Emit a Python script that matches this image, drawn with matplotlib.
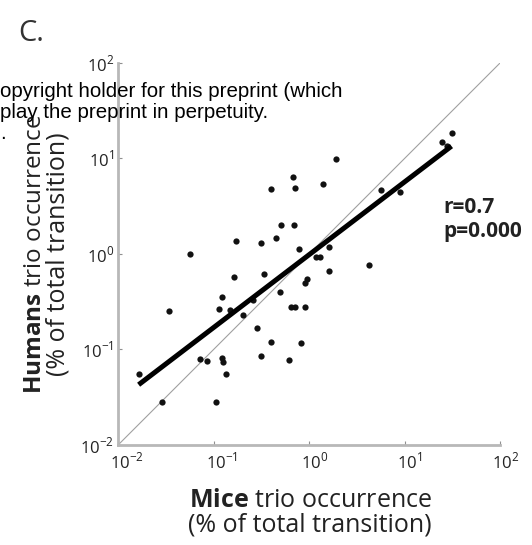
import numpy as np
import matplotlib
matplotlib.use("Agg")
from matplotlib import pyplot as plt
from matplotlib import transforms

plt.rcParams["font.family"] = ["Open Sans", "DejaVu Sans"]
plt.rcParams["mathtext.fontset"] = "custom"
plt.rcParams["mathtext.rm"] = "Open Sans"
plt.rcParams["mathtext.bf"] = "Open Sans:bold"

# trio occurrence, % of total transitions
mice = [1.90, 0.68, 1.39, 0.40, 0.72, 0.51, 0.70, 0.173, 0.31, 0.45,
        0.057, 0.79, 1.61, 1.18, 1.30, 4.26, 5.66, 8.9, 31, 24.7,
        27.8, 1.61, 0.95, 0.91, 0.164, 0.34, 0.49, 0.121, 0.034, 0.113,
        0.150, 0.204, 0.258, 0.65, 0.72, 0.91, 0.284, 0.40, 0.83, 0.072,
        0.085, 0.121, 0.124, 0.136, 0.31, 0.62, 0.0164, 0.029, 0.107]
humans = [9.9, 6.4, 5.4, 4.8, 4.9, 2.0, 2.0, 1.37, 1.30, 1.47,
          1.0, 1.13, 1.18, 0.93, 0.93, 0.77, 4.7, 4.5, 18.5, 14.9,
          13.5, 0.66, 0.55, 0.50, 0.57, 0.62, 0.40, 0.355, 0.253, 0.265,
          0.26, 0.23, 0.33, 0.28, 0.28, 0.28, 0.168, 0.12, 0.117, 0.080,
          0.076, 0.081, 0.074, 0.055, 0.085, 0.078, 0.055, 0.028, 0.028]

mice = np.array(mice)
humans = np.array(humans)
lx, ly = np.log10(mice), np.log10(humans)
slope, icpt = np.polyfit(lx, ly, 1)
r = np.corrcoef(lx, ly)[0, 1]

fig = plt.figure(figsize=(5.32, 5.45), dpi=100)
ax = fig.add_axes([0.222, 0.1835, 0.718, 0.701])

ax.plot([1e-2, 1e2], [1e-2, 1e2], color="#a0a0a0", lw=0.8, zorder=1)
fx = np.array([mice.min(), mice.max()])
ax.plot(fx, 10 ** (icpt + slope * np.log10(fx)), color="black", lw=3.6,
        solid_capstyle="butt", zorder=3)
ax.plot(mice, humans, "o", color="#111111", ms=4.5, mec="none", zorder=2)

ax.set_xscale("log")
ax.set_yscale("log")
ax.set_xlim(1e-2, 1e2)
ax.set_ylim(1e-2, 1e2)
ticks = [1e-2, 1e-1, 1e0, 1e1, 1e2]
labels = [r"$10^{-2}$", r"$10^{-1}$", r"$10^{0}$", r"$10^{1}$", r"$10^{2}$"]
ax.set_xticks(ticks)
ax.set_yticks(ticks)
ax.set_xticklabels(labels)
ax.set_yticklabels(labels)
ax.minorticks_off()
ax.tick_params(direction="in", length=3, width=0.8, color="#909090",
               labelsize=12, labelcolor="#222222", pad=3)
ax.tick_params(axis="x", pad=5)
shift = transforms.ScaledTranslation(-8 / 100, 0, fig.dpi_scale_trans)
for lab in ax.get_xticklabels():
    lab.set_horizontalalignment("left")
    lab.set_transform(lab.get_transform() + shift)
for s in ["top", "right"]:
    ax.spines[s].set_visible(False)
for s in ["left", "bottom"]:
    ax.spines[s].set_color("#b8b8b8")
    ax.spines[s].set_linewidth(2)

ax.set_xlabel("$\\bf{Mice}$ trio occurrence\n(% of total transition)",
              fontsize=18, color="#222222", linespacing=1.0)
ax.xaxis.set_label_coords(0.503, -0.112)

# y label as two lines placed separately
fig.text(35 / 532, 1 - 254 / 545, "$\\bf{Humans}$ trio occurrence",
         rotation=90, ha="center", va="center", fontsize=17.5, color="#222222")
fig.text(58 / 532, 1 - 254 / 545, "(% of total transition)",
         rotation=90, ha="center", va="center", fontsize=18, color="#222222")

ax.text(0.851, 0.648, "r=%.1f\np=0.000" % r, transform=ax.transAxes,
        fontsize=15, fontweight="bold", color="#222222", va="top",
        linespacing=1.15)

fig.text(0.035, 0.965, "C.", fontsize=21, color="#333333", va="top")

fig.text(0.0, 0.850, "opyright holder for this preprint (which\n"
         "play the preprint in perpetuity.\n.", family="Liberation Sans",
         fontsize=14.8, color="black", va="top", linespacing=1.15, zorder=10)

fig.savefig("out.png", dpi=100)
